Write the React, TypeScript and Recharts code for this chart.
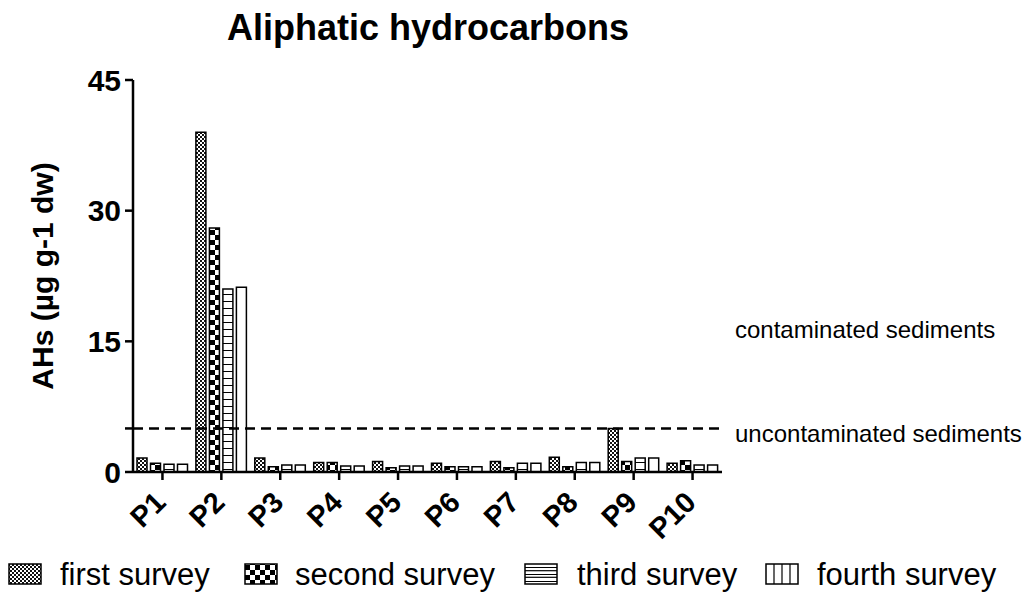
import React from 'react';
import { BarChart, Bar, XAxis, YAxis, ReferenceLine } from 'recharts';

const categories = ['P1', 'P2', 'P3', 'P4', 'P5', 'P6', 'P7', 'P8', 'P9', 'P10'];
const firstSurvey = [1.6, 39, 1.6, 1.1, 1.2, 1.0, 1.2, 1.7, 5.0, 1.0];
const secondSurvey = [1.0, 28, 0.6, 1.1, 0.5, 0.6, 0.5, 0.6, 1.2, 1.3];
const thirdSurvey = [0.9, 21, 0.8, 0.7, 0.7, 0.6, 1.0, 1.1, 1.6, 0.8];
const fourthSurvey = [0.9, 21.2, 0.8, 0.7, 0.7, 0.6, 1.0, 1.1, 1.6, 0.8];
const yTicks = [0, 5, 15, 30, 45];
const yTickLabels = ['0', '', '15', '30', '45'];
const threshold = 5;
const seriesNames = ['first survey', 'second survey', 'third survey', 'fourth survey'];
const titleText = 'Aliphatic hydrocarbons';
const yLabelText = 'AHs (µg g-1 dw)';
const upperNote = 'contaminated sediments';
const lowerNote = 'uncontaminated sediments';

const FONT = '"Liberation Sans", Arial, Helvetica, sans-serif';

const data = categories.map((name, i) => ({
  name,
  first: firstSurvey[i],
  second: secondSurvey[i],
  third: thirdSurvey[i],
  fourth: fourthSurvey[i],
}));

const XTick = (props: any) => {
  const { x, y, payload } = props;
  return (
    <g transform={`translate(${x + 5},${y + 22}) rotate(-45)`}>
      <text x={0} y={0} textAnchor="end" fontSize={29} fontWeight={700} fill="#000" fontFamily={FONT}>
        {payload.value}
      </text>
    </g>
  );
};

const YLabel = (props: any) => {
  const vb = props.viewBox || {};
  const cx = vb.x - 10;
  const cy = vb.y + vb.height / 2;
  return (
    <text
      x={cx}
      y={cy}
      transform={`rotate(-90, ${cx}, ${cy})`}
      textAnchor="middle"
      fontSize={30}
      fontWeight={700}
      fill="#000"
      fontFamily={FONT}
    >
      {yLabelText}
    </text>
  );
};

const ThresholdLabels = (props: any) => {
  const vb = props.viewBox || {};
  const x = vb.x + vb.width + 13;
  const y = vb.y;
  return (
    <g fontFamily={FONT} fontSize={24} fill="#000">
      <text x={x} y={y - 90}>{upperNote}</text>
      <text x={x} y={y + 14}>{lowerNote}</text>
    </g>
  );
};

const fills = ['url(#patFirst)', 'url(#patSecond)', 'url(#patThird)', 'url(#patFourth)'];
const keys = ['first', 'second', 'third', 'fourth'];

export default function App() {
  const legendX = [9, 245, 525, 766];
  const legendTextX = [60, 295, 577, 817];
  return (
    <div style={{ position: 'absolute', left: 0, top: 0, width: 1025, height: 593, background: '#fff', fontFamily: FONT }}>
      <svg width={0} height={0} style={{ position: 'absolute' }}>
        <defs>
          <pattern id="patFirst" patternUnits="userSpaceOnUse" width={4} height={4}>
            <rect width={4} height={4} fill="#fff" />
            <rect x={0} y={0} width={2} height={2} fill="#111" />
            <rect x={2} y={2} width={2} height={2} fill="#111" />
          </pattern>
          <pattern id="patSecond" patternUnits="userSpaceOnUse" width={10} height={10}>
            <rect width={10} height={10} fill="#fff" />
            <rect x={0} y={0} width={5} height={5} fill="#000" />
            <rect x={5} y={5} width={5} height={5} fill="#000" />
          </pattern>
          <pattern id="patThird" patternUnits="userSpaceOnUse" width={10} height={7}>
            <rect width={10} height={7} fill="#fff" />
            <line x1={0} y1={0.5} x2={10} y2={0.5} stroke="#000" strokeWidth={1} />
          </pattern>
          <pattern id="patFourth" patternUnits="userSpaceOnUse" width={10} height={10}>
            <rect width={10} height={10} fill="#fff" />
          </pattern>
        </defs>
      </svg>
      <BarChart
        width={1025}
        height={593}
        data={data}
        margin={{ top: 80, right: 303, bottom: 61, left: 63 }}
        barSize={10}
        barGap={3.5}
        style={{ position: 'absolute', left: 0, top: 0 }}
      >
        <XAxis
          dataKey="name"
          height={60}
          tick={<XTick />}
          tickSize={8}
          interval={0}
          axisLine={{ stroke: '#000', strokeWidth: 2.5 }}
          tickLine={{ stroke: '#000', strokeWidth: 2.5 }}
        />
        <YAxis
          width={70}
          domain={[0, 45]}
          ticks={yTicks}
          interval={0}
          tickFormatter={(v: number) => yTickLabels[yTicks.indexOf(v)] ?? String(v)}
          tickSize={8}
          tickMargin={4}
          tick={{ fontSize: 30, fontWeight: 700, fill: '#000', fontFamily: FONT }}
          axisLine={{ stroke: '#000', strokeWidth: 2.5 }}
          tickLine={{ stroke: '#000', strokeWidth: 2.5 }}
          label={<YLabel />}
        />
        {keys.map((k, i) => (
          <Bar
            key={k}
            dataKey={k}
            name={seriesNames[i]}
            fill={fills[i]}
            stroke="#000"
            strokeWidth={1.5}
            isAnimationActive={false}
          />
        ))}
        <ReferenceLine
          y={threshold}
          stroke="#000"
          strokeWidth={2.5}
          strokeDasharray="10 6"
          label={<ThresholdLabels />}
        />
      </BarChart>
      <svg width={1025} height={593} style={{ position: 'absolute', left: 0, top: 0, pointerEvents: 'none' }}>
        <text x={428} y={40} textAnchor="middle" fontSize={36} fontWeight={700} fill="#000" fontFamily={FONT}>
          {titleText}
        </text>
        {seriesNames.map((n, i) => (
          <g key={n}>
            <rect x={legendX[i]} y={564} width={32} height={20} fill={i < 3 ? fills[i] : '#fff'} stroke="#000" strokeWidth={1.5} />
            {i === 2 && (
              <g stroke="#000" strokeWidth={1.2}>
                <line x1={legendX[i]} y1={570.7} x2={legendX[i] + 32} y2={570.7} />
                <line x1={legendX[i]} y1={577.3} x2={legendX[i] + 32} y2={577.3} />
              </g>
            )}
            {i === 3 && (
              <g stroke="#000" strokeWidth={1.2}>
                <line x1={legendX[i] + 8} y1={564} x2={legendX[i] + 8} y2={584} />
                <line x1={legendX[i] + 16} y1={564} x2={legendX[i] + 16} y2={584} />
                <line x1={legendX[i] + 24} y1={564} x2={legendX[i] + 24} y2={584} />
              </g>
            )}
            <text x={legendTextX[i]} y={585} fontSize={31} fill="#000" fontFamily={FONT}>
              {n}
            </text>
          </g>
        ))}
      </svg>
    </div>
  );
}
